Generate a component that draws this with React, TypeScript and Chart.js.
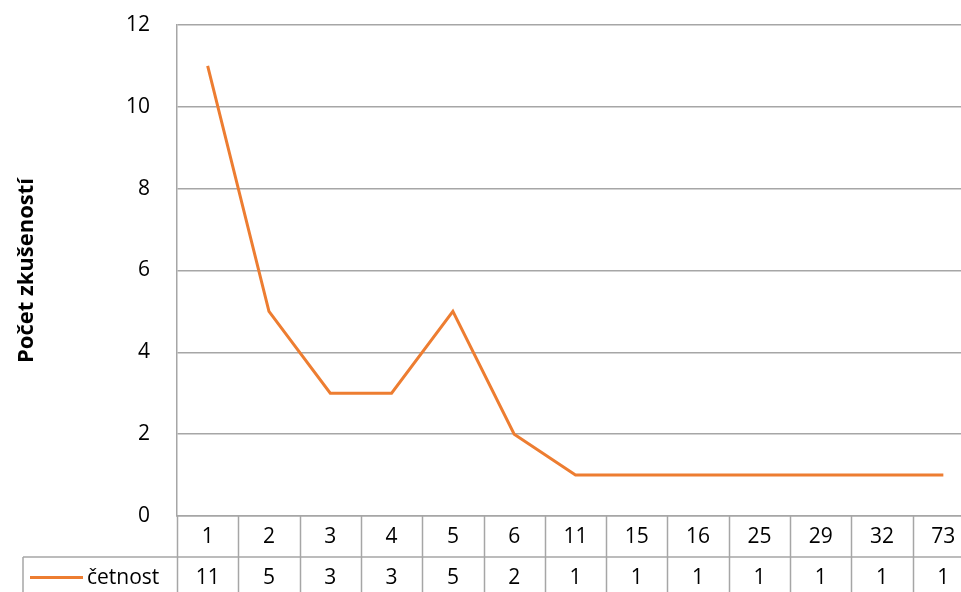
import React, { useEffect, useRef } from "react";
import { Chart, registerables } from "chart.js";

Chart.register(...registerables);

const categories = ["1", "2", "3", "4", "5", "6", "11", "15", "16", "25", "29", "32", "73"];
const cetnost = [11, 5, 3, 3, 5, 2, 1, 1, 1, 1, 1, 1, 1];
const seriesName = "četnost";
const yTitle = "Počet zkušeností";

const FONT = "'Open Sans', 'Noto Sans', sans-serif";
const GRID = "#A6A6A6";
const ORANGE = "#ED7D31";
const FS = 21;

const tablePlugin = {
  id: "dataTable",
  afterDraw(chart: any) {
    const ctx = chart.ctx;
    const xs = chart.scales.x;
    const area = chart.chartArea;
    const n = categories.length;
    const step = n > 1 ? xs.getPixelForValue(1) - xs.getPixelForValue(0) : area.right - area.left;
    const top = area.bottom;
    const rowH = 41;
    const sep = top + rowH;
    const bottom = chart.height + 5;
    const leftTable = 23;
    ctx.save();
    ctx.strokeStyle = GRID;
    ctx.lineWidth = 1.5;
    ctx.beginPath();
    for (let i = 0; i <= n; i++) {
      const x = Math.round(xs.getPixelForValue(0) - step / 2 + i * step) + 0.5;
      ctx.moveTo(x, top);
      ctx.lineTo(x, bottom);
    }
    ctx.moveTo(leftTable, sep);
    ctx.lineTo(chart.width, sep);
    ctx.moveTo(leftTable, sep);
    ctx.lineTo(leftTable, bottom);
    ctx.stroke();

    ctx.fillStyle = "#000";
    ctx.font = `${FS}px ${FONT}`;
    ctx.textAlign = "center";
    ctx.textBaseline = "middle";
    for (let i = 0; i < n; i++) {
      const x = xs.getPixelForValue(i);
      ctx.fillText(categories[i], x, top + rowH / 2 + 1);
      ctx.fillText(String(cetnost[i]), x, sep + rowH / 2 + 1);
    }
    // legend key
    ctx.strokeStyle = ORANGE;
    ctx.lineWidth = 3;
    ctx.beginPath();
    ctx.moveTo(30, sep + rowH / 2);
    ctx.lineTo(83, sep + rowH / 2);
    ctx.stroke();
    ctx.textAlign = "left";
    ctx.fillText(seriesName, 87, sep + rowH / 2 + 1);
    ctx.restore();
  },
};

export default function App() {
  const ref = useRef<HTMLCanvasElement | null>(null);
  useEffect(() => {
    if (!ref.current) return;
    const chart = new Chart(ref.current, {
      type: "line",
      data: {
        labels: categories,
        datasets: [
          {
            label: seriesName,
            data: cetnost,
            borderColor: ORANGE,
            backgroundColor: ORANGE,
            borderWidth: 3,
            pointRadius: 0,
            tension: 0,
          },
        ],
      },
      options: {
        responsive: false,
        animation: false,
        layout: { padding: { left: 14, right: 2, top: 25, bottom: 76 } },
        plugins: { legend: { display: false }, tooltip: { enabled: false } },
        scales: {
          x: {
            offset: true,
            ticks: { display: false },
            grid: { display: false, drawTicks: false },
            border: { display: true, color: GRID, width: 1.5 },
          },
          y: {
            min: 0,
            max: 12,
            ticks: {
              stepSize: 2,
              color: "#000",
              padding: 27,
              font: { family: FONT, size: FS },
            },
            grid: { color: GRID, lineWidth: 1.5, drawTicks: false },
            border: { display: true, color: GRID, width: 1.5 },
            title: {
              display: true,
              text: yTitle,
              color: "#000",
              font: { family: FONT, size: 22, weight: "bold" },
              padding: { top: 0, bottom: 0 },
            },
            afterFit(scale: any) {
              scale.width = 163;
              scale.paddingTop = 0;
              scale.paddingBottom = 0;
            },
          },
        },
      },
      plugins: [tablePlugin],
    });
    return () => chart.destroy();
  }, []);
  return (
    <div style={{ position: "fixed", left: 0, top: 0, width: 961, height: 592, overflow: "hidden", background: "#fff" }}>
      <canvas ref={ref} width={976} height={592} style={{ display: "block", width: 976, height: 592 }} />
    </div>
  );
}
